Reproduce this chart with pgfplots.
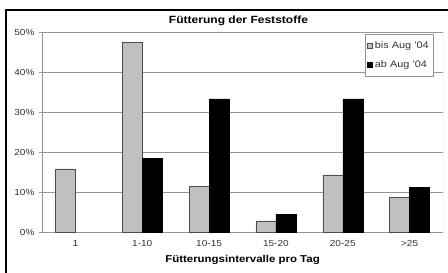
\documentclass[border=0pt]{standalone}
\usepackage{fontspec}
\setmainfont{Liberation Sans}[FakeStretch=1.15]
\usepackage{pgfplots}
\pgfplotsset{compat=1.18}
\definecolor{bargray}{RGB}{192,192,192}
\definecolor{gridgray}{RGB}{150,150,150}
\begin{document}
\begin{tikzpicture}[x=1bp,y=1bp]
\useasboundingbox (0,0) rectangle (448,272);
\draw[line width=1.3bp] (6,-3) rectangle (452,262);
\begin{axis}[
  at={(42bp,40bp)}, anchor=south west,
  scale only axis, width=401bp, height=200bp,
  ymin=0, ymax=50, ytick={0,10,...,50},
  yticklabel={\pgfmathprintnumber{\tick}\%},
  xmin=-0.5, xmax=5.5, xtick={0,...,5},
  xticklabels={1,1-10,10-15,15-20,20-25,>25},
  major x tick style={draw=none},
  extra x ticks={-0.5,0.5,1.5,2.5,3.5,4.5,5.5},
  extra x tick labels={},
  extra x tick style={major tick length=3bp, tick style={gridgray}, grid=none},
  tick align=outside, major tick length=3bp,
  y tick style={gridgray},
  ybar=0pt, bar width=20bp,
  ymajorgrids, grid style={gridgray, line width=0.6bp},
  axis line style={gridgray, line width=0.6bp},
  axis x line*=bottom, axis y line*=left,
  tick label style={font=\fontsize{8.8}{10}\selectfont, text=black!80},
  /pgf/number format/assume math mode=true,
  xticklabel style={yshift=-2bp},
  yticklabel style={xshift=-1bp},
  title={\bfseries Fütterung der Feststoffe},
  title style={font=\fontsize{10.5}{12}\selectfont, at={(0.49,1)}, anchor=base, yshift=3bp},
  xlabel={\bfseries Fütterungsintervalle pro Tag},
  xlabel style={font=\fontsize{10}{12}\selectfont, yshift=4bp},
  legend style={at={(0.975,0.99)}, anchor=north east, font=\fontsize{9.5}{11}\selectfont,
    draw=gridgray, row sep=7bp, inner xsep=2bp, inner ysep=5bp, cells={anchor=west, text=black!80}},
  legend image code/.code={\draw[#1] (0bp,-2.5bp) rectangle (5bp,2.5bp);},
]
\addplot[fill=bargray, draw=black!70, line width=0.5bp] coordinates {(0,15.8) (1,47.5) (2,11.5) (3,2.8) (4,14.3) (5,8.6)};
\addplot[fill=black, draw=black, line width=0.5bp] coordinates {(1,18.5) (2,33.3) (3,4.4) (4,33.3) (5,11.1)};
\legend{bis Aug '04, ab Aug '04}
\draw[gridgray, line width=0.6bp] (rel axis cs:1,0) -- (rel axis cs:1,1);
\end{axis}
\end{tikzpicture}
\end{document}
